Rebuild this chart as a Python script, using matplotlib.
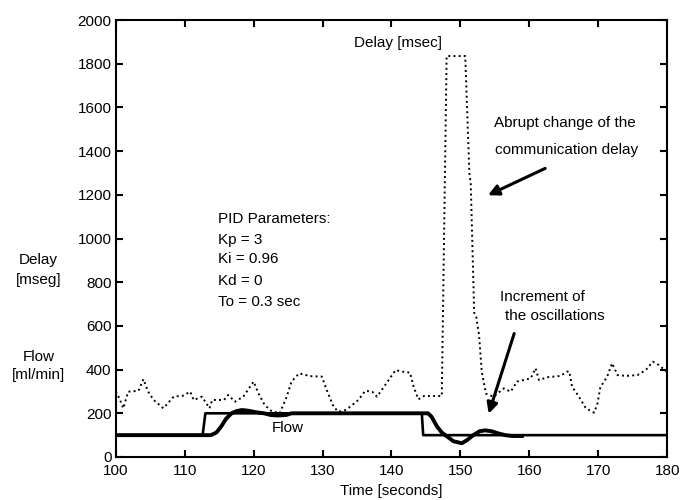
import matplotlib
matplotlib.use("Agg")
import matplotlib.pyplot as plt

plt.rcParams["font.family"] = ["Liberation Sans", "DejaVu Sans"]

# communication delay [msec] (dotted trace)
delay_t = [100.0, 100.5, 101.1, 101.8, 103.3, 104.0, 104.7, 105.5, 106.9, 108.4,
           109.8, 110.8, 111.3, 112.5, 113.6, 114.0, 115.7, 116.3, 117.3, 118.5,
           120.0, 120.7, 121.6, 122.6, 123.8, 124.8, 125.5, 126.6, 128.2, 129.9,
           130.6, 131.6, 132.3, 133.3, 134.0, 135.2, 136.2, 137.2, 137.9, 139.1,
           140.6, 141.5, 142.7, 143.2, 143.9, 144.7, 147.3, 148.0, 150.7, 151.3,
           151.5, 152.0, 152.3, 152.7, 153.1, 153.7, 154.8, 156.3, 157.3, 158.2,
           160.2, 160.9, 161.4, 162.6, 164.5, 165.5, 165.8, 166.2, 167.2, 168.2,
           169.4, 169.9, 170.3, 171.3, 172.0, 172.8, 174.0, 175.7, 176.9, 177.9,
           178.8, 179.6, 180.0]
delay_ms = [300, 270, 223, 299, 303, 356, 299, 261, 223, 276,
            281, 299, 261, 276, 223, 261, 261, 284, 253, 276,
            345, 291, 238, 210, 200, 276, 345, 383, 370, 368,
            307, 230, 207, 215, 230, 261, 303, 299, 276, 330,
            398, 391, 386, 322, 264, 279, 279, 1835, 1835, 1300,
            1250, 660, 640, 560, 390, 290, 276, 314, 299, 345,
            360, 406, 352, 365, 371, 391, 391, 322, 276, 223,
            203, 246, 319, 368, 429, 375, 371, 375, 398, 436,
            421, 398, 390]

# flow set-point [ml/min]
setpoint_t = [100, 112.6, 113.0, 144.4, 144.6, 180]
setpoint_v = [100, 100, 200, 200, 100, 100]

# measured flow [ml/min] (thick trace)
flow_t = [100, 113.8, 114.6, 115.3, 116.0, 116.8, 117.5, 118.3, 119.2, 120.3,
          121.5, 122.5, 123.5, 124.7, 125.5, 145.3, 145.8, 146.6, 147.3, 148.1,
          149.0, 150.2, 151.0, 151.9, 152.8, 153.6, 154.5, 155.5, 156.5, 157.5,
          159.2]
flow_v = [100, 100, 112, 140, 175, 200, 210, 215, 212, 205,
          200, 192, 190, 192, 200, 200, 185, 140, 112, 93,
          72, 63, 78, 101, 118, 122, 118, 108, 100, 96,
          96]

pid_lines = ["PID Parameters:", "Kp = 3", "Ki = 0.96", "Kd = 0", "To = 0.3 sec"]
pid_y = [1087, 992, 904, 806, 710]

fig = plt.figure(figsize=(6.85, 5.0), dpi=100)
ax = fig.add_axes([0.169, 0.086, 0.805, 0.874])

ax.plot(delay_t, delay_ms, color="black", linestyle=":", linewidth=1.4)
ax.plot(setpoint_t, setpoint_v, color="black", linewidth=1.9)
ax.plot(flow_t, flow_v, color="black", linewidth=2.8, solid_capstyle="butt")

ax.set_xlim(100, 180)
ax.set_ylim(0, 2000)
ax.set_xticks(range(100, 181, 10))
ax.set_yticks(range(0, 2001, 200))
ax.tick_params(direction="in", top=True, right=True, length=5, width=1.5,
               labelsize=11, pad=3)
ax.tick_params(axis="x", pad=5)
for s in ax.spines.values():
    s.set_linewidth(1.5)
ax.set_xlabel("Time [seconds]", fontsize=11, labelpad=4)

fs = 11
ax.text(140.9, 1893, "Delay [msec]", ha="center", va="center", fontsize=fs)
ax.text(165.2, 1530, "Abrupt change of the", ha="center", va="center", fontsize=fs)
ax.text(165.4, 1405, "communication delay", ha="center", va="center", fontsize=fs)
for line, y in zip(pid_lines, pid_y):
    ax.text(114.9, y, line, ha="left", va="center", fontsize=fs)
ax.text(155.7, 733, "Increment of", ha="left", va="center", fontsize=fs)
ax.text(156.4, 644, "the oscillations", ha="left", va="center", fontsize=fs)
ax.text(124.9, 133, "Flow", ha="center", va="center", fontsize=fs)

# labels to the left of the axis
ax.text(88.8, 901, "Delay", ha="center", va="center", fontsize=fs, clip_on=False)
ax.text(88.8, 809, "[mseg]", ha="center", va="center", fontsize=fs, clip_on=False)
ax.text(88.8, 458, "Flow", ha="center", va="center", fontsize=fs, clip_on=False)
ax.text(88.8, 374, "[ml/min]", ha="center", va="center", fontsize=fs, clip_on=False)

arrow = dict(arrowstyle="-|>", color="black", lw=2.2, mutation_scale=16,
             shrinkA=0, shrinkB=0)
ax.annotate("", xy=(154.0, 1198), xytext=(162.3, 1321), arrowprops=arrow)
ax.annotate("", xy=(154.1, 198), xytext=(157.8, 565), arrowprops=arrow)

fig.savefig("out.png", dpi=100)
